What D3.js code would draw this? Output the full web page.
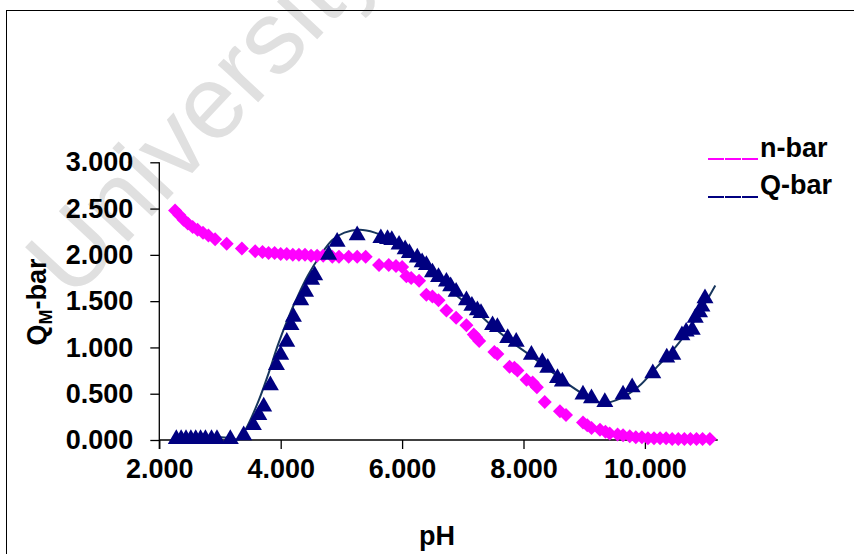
<!DOCTYPE html>
<html><head><meta charset="utf-8">
<script src="https://cdn.jsdelivr.net/npm/d3@7/dist/d3.min.js"></script>
<style>
body{margin:0;background:#fff}
text{font-family:Arial,"Liberation Sans",sans-serif;font-weight:bold}
</style>
</head><body>
<svg id="c" width="854" height="554"></svg>
<script>
const xTicks = [2, 4, 6, 8, 10];
const yTicks = [0, 0.5, 1, 1.5, 2, 2.5, 3];
const seriesNames = ["n-bar", "Q-bar"];

// n-bar (pink diamonds)
const nPH  = [2.26,2.33,2.40,2.47,2.55,2.63,2.72,2.81,2.92,3.11,3.36,3.58,3.70,3.80,3.90,4.00,4.10,4.20,4.30,4.40,4.50,4.60,4.70,4.85,4.96,5.12,5.26,5.40,5.62,5.78,5.90,6.00,6.07,6.15,6.28,6.40,6.50,6.60,6.73,6.89,7.06,7.18,7.22,7.27,7.52,7.57,7.77,7.85,7.90,8.05,8.15,8.22,8.35,8.60,8.70,8.98,9.05,9.12,9.26,9.35,9.42,9.55,9.64,9.75,9.85,9.95,10.05,10.15,10.25,10.35,10.45,10.55,10.65,10.75,10.85,10.95,11.07];
const nBar = [2.48,2.43,2.38,2.34,2.30,2.27,2.24,2.21,2.17,2.12,2.07,2.04,2.03,2.02,2.02,2.01,2.01,2.00,2.00,2.00,1.99,1.99,1.99,1.98,1.98,1.98,1.98,1.98,1.89,1.89,1.88,1.87,1.77,1.75,1.72,1.57,1.55,1.51,1.40,1.32,1.24,1.14,1.11,1.07,0.95,0.93,0.79,0.78,0.75,0.65,0.62,0.57,0.41,0.31,0.27,0.19,0.16,0.13,0.11,0.09,0.07,0.06,0.05,0.04,0.03,0.03,0.02,0.02,0.02,0.02,0.01,0.01,0.01,0.01,0.01,0.01,0.01];

// Q-bar (navy triangles)
const qPH  = [2.28,2.36,2.44,2.52,2.60,2.68,2.76,2.86,2.95,3.17,3.39,3.55,3.64,3.72,3.83,3.93,4.00,4.10,4.17,4.21,4.33,4.41,4.51,4.56,4.79,4.93,5.26,5.65,5.76,5.83,5.95,6.05,6.12,6.25,6.33,6.40,6.50,6.60,6.73,6.80,6.89,7.06,7.15,7.24,7.30,7.49,7.57,7.74,7.88,8.13,8.31,8.40,8.56,8.64,8.98,9.12,9.34,9.64,9.79,10.13,10.36,10.46,10.61,10.68,10.78,10.83,10.90,10.94,10.99];
const qBar = [0.01,0.01,0.01,0.01,0.01,0.01,0.01,0.01,0.01,0.01,0.05,0.16,0.27,0.36,0.59,0.81,0.92,1.06,1.24,1.33,1.51,1.60,1.73,1.78,2.00,2.14,2.21,2.18,2.17,2.16,2.11,2.06,2.02,1.97,1.92,1.89,1.81,1.76,1.71,1.66,1.60,1.51,1.45,1.40,1.37,1.24,1.22,1.10,1.06,0.92,0.84,0.78,0.67,0.63,0.49,0.45,0.41,0.49,0.57,0.72,0.89,0.92,1.13,1.17,1.19,1.32,1.38,1.44,1.53];

// fitted Q-bar curve
const fitPH = [2.26,2.60,3.00,3.20,3.30,3.45,3.64,3.80,3.95,4.10,4.25,4.45,4.65,4.85,5.05,5.30,5.55,5.80,6.05,6.30,6.60,6.90,7.20,7.50,7.80,8.10,8.40,8.70,9.00,9.30,9.60,9.90,10.20,10.50,10.80,11.16];
const fitQ  = [0.03,0.03,0.03,0.02,0.00,0.15,0.43,0.72,1.02,1.28,1.51,1.78,1.99,2.16,2.24,2.27,2.24,2.17,2.06,1.94,1.76,1.56,1.40,1.22,1.06,0.92,0.77,0.62,0.49,0.40,0.45,0.58,0.79,1.00,1.27,1.67];

const pink = "#ff00ff", navy = "#000080", lineCol = "#17365d";
const svg = d3.select("#c");

// watermark
svg.append("text").attr("transform","translate(72,302) rotate(-47)")
  .attr("font-size",104).style("font-weight","normal").attr("fill","#e0e0e0")
  .text("University");

// chart frame
svg.append("rect").attr("x",6.5).attr("y",10.5).attr("width",900).attr("height",600)
  .attr("fill","none").attr("stroke","#000").attr("stroke-width",1);

const x = d3.scaleLinear().domain([2, 11.2]).range([159.3, 159.3 + 9.2*60.7]);
const y = d3.scaleLinear().domain([0, 3]).range([440, 162.3]);
const fmt = d3.format(".3f");

const gx = svg.append("g").attr("transform","translate(0,440)")
  .call(d3.axisBottom(x).tickValues(xTicks).tickSize(9).tickPadding(10).tickFormat(fmt));
const gy = svg.append("g").attr("transform",`translate(${x(2)},0)`)
  .call(d3.axisLeft(y).tickValues(yTicks).tickSize(9).tickPadding(17).tickFormat(fmt));
[gx, gy].forEach(g => {
  g.select(".domain").attr("stroke","#000").attr("stroke-width",1.3);
  g.selectAll(".tick line").attr("stroke","#000").attr("stroke-width",1.3);
  g.selectAll("text").attr("font-size",27).attr("font-family","Arial,'Liberation Sans',sans-serif").attr("fill","#000");
});
gx.select(".domain").attr("d",`M${x(2)},0H${x(11.2)}`);
gy.select(".domain").attr("d",`M0,${y(3)}V${y(0)+9}`);

// axis titles
svg.append("text").attr("x",437).attr("y",545).attr("text-anchor","middle")
  .attr("font-size",27).text("pH");
const yt = svg.append("text").attr("transform","translate(46,302) rotate(-90)")
  .attr("text-anchor","middle").attr("font-size",27);
yt.append("tspan").text("Q");
yt.append("tspan").attr("font-size",18).attr("dy",6).text("M");
yt.append("tspan").attr("dy",-6).text("-bar");

// fitted line
const fit = fitPH.map((p,i)=>[p,fitQ[i]]);
svg.append("path").datum(fit)
  .attr("d", d3.line().x(d=>x(d[0])).y(d=>y(d[1])).curve(d3.curveCatmullRom.alpha(0.5)))
  .attr("fill","none").attr("stroke",lineCol).attr("stroke-width",2);

// n-bar diamonds
svg.append("g").selectAll("path").data(nPH.map((p,i)=>[p,nBar[i]])).join("path")
  .attr("transform",d=>`translate(${x(d[0])},${y(d[1])}) rotate(45)`)
  .attr("d", d3.symbol(d3.symbolSquare, 98)).attr("fill",pink);

// Q-bar triangles
svg.append("g").selectAll("path").data(qPH.map((p,i)=>[p,qBar[i]])).join("path")
  .attr("transform",d=>`translate(${x(d[0])},${y(d[1])})`)
  .attr("d", d3.symbol(d3.symbolTriangle, 125)).attr("fill",navy);

// legend
const leg = [[seriesNames[0], pink, 159, 157], [seriesNames[1], navy, 197, 194]];
leg.forEach(([name,c,ly,ty])=>{
  svg.append("line").attr("x1",708).attr("x2",758).attr("y1",ly).attr("y2",ly)
    .attr("stroke",c).attr("stroke-width",2).attr("stroke-dasharray","16,1");
  svg.append("text").attr("x",760).attr("y",ty).attr("font-size",27).text(name);
});
</script>
</body></html>
